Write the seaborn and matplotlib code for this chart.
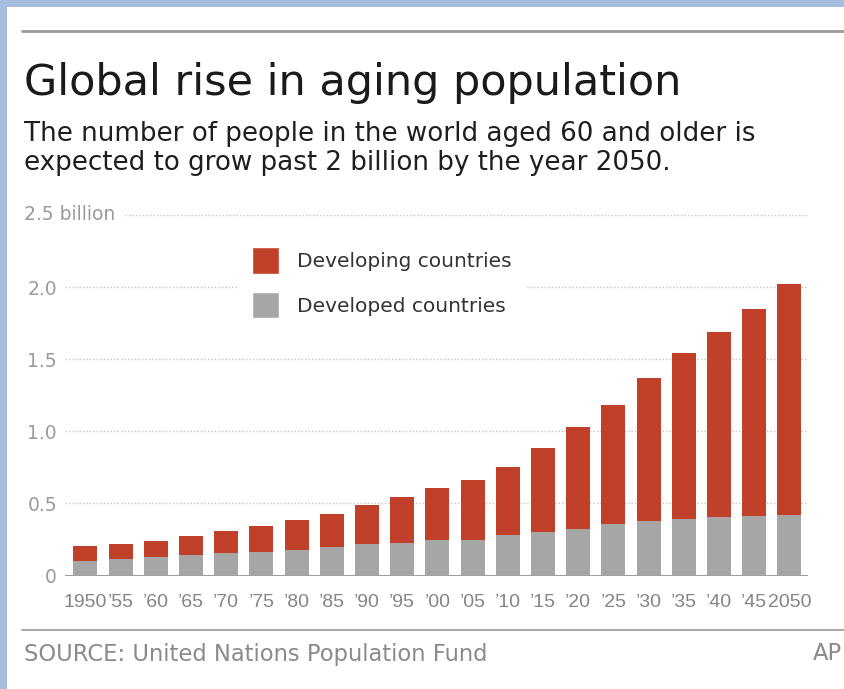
import matplotlib
matplotlib.use("Agg")
import pandas as pd
import matplotlib.pyplot as plt
import seaborn as sns
from matplotlib.patches import Patch, Rectangle
from matplotlib.lines import Line2D

# data (billions of people aged 60+)
years = ["1950", "’55", "’60", "’65", "’70", "’75", "’80", "’85", "’90", "’95", "’00",
         "’05", "’10", "’15", "’20", "’25", "’30", "’35", "’40", "’45", "2050"]
developed = [0.100, 0.114, 0.128, 0.139, 0.153, 0.166, 0.180, 0.198, 0.216, 0.228, 0.244,
             0.248, 0.278, 0.303, 0.323, 0.355, 0.376, 0.392, 0.408, 0.415, 0.419]
developing = [0.103, 0.107, 0.113, 0.132, 0.154, 0.180, 0.205, 0.228, 0.271, 0.314, 0.362,
              0.415, 0.476, 0.583, 0.707, 0.830, 0.994, 1.148, 1.282, 1.435, 1.601]
y_ticks = [0, 0.5, 1.0, 1.5, 2.0]
y_labels = ["0", "0.5", "1.0", "1.5", "2.0"]

df = pd.DataFrame({"year": years, "developed": developed, "developing": developing})
df["total"] = df["developed"] + df["developing"]

red = "#c1402a"
grey = "#a6a6a6"

sns.set_style("white")
plt.rcParams["font.family"] = ["DejaVu Sans"]

W, H = 845, 689
fig = plt.figure(figsize=(W / 100, H / 100), dpi=100)
fig.patch.set_facecolor("white")

# light blue frame on top and left edge
fig.add_artist(Rectangle((0, 1 - 7 / H), 1, 7 / H, transform=fig.transFigure,
                         facecolor="#a7bde0", edgecolor="none"))
fig.add_artist(Rectangle((0, 0), 7 / W, 1, transform=fig.transFigure,
                         facecolor="#a7bde0", edgecolor="none"))

ax = fig.add_axes([65 / W, 1 - 575.5 / H, 743 / W, 360.5 / H])

# stacked bars: total in red, developed drawn over it in grey
sns.barplot(data=df, x="year", y="total", order=years, color=red, saturation=1,
            width=0.68, linewidth=0, errorbar=None, ax=ax)
sns.barplot(data=df, x="year", y="developed", order=years, color=grey, saturation=1,
            width=0.68, linewidth=0, errorbar=None, ax=ax)

ax.set_ylim(0, 2.5)
ax.set_xlim(-0.58, 20.53)
sns.despine(ax=ax, left=True, bottom=True)
ax.set_xlabel("")
ax.set_ylabel("")

# dotted grid behind bars
for v in y_ticks[1:]:
    ax.axhline(v, color="#c4c4c4", lw=1, ls=(0, (1, 1.5)), zorder=0)
ax.axhline(2.5, xmin=0.081, color="#c4c4c4", lw=1, ls=(0, (1, 1.5)), zorder=0)
ax.axhline(0, color="#a0a0a0", lw=1.5, zorder=3)

ax.set_yticks(y_ticks)
ax.set_yticklabels(y_labels)
ax.tick_params(axis="y", length=0, pad=5.8, labelsize=13.5, labelcolor="#9a9a9a")
ax.tick_params(axis="x", length=0, pad=13.5, labelsize=14, labelcolor="#858585")
for lab in ax.get_xticklabels():
    lab.set_family(["Liberation Sans", "DejaVu Sans"])

fig.text(24 / W, 1 - 215 / H, "2.5 billion", ha="left", va="center",
         fontsize=13.5, color="#9a9a9a")

handles = [Patch(facecolor=red, label="Developing countries"),
           Patch(facecolor=grey, label="Developed countries")]
leg = ax.legend(handles=handles, loc="upper left", bbox_to_anchor=(237 / W, 1 - 232 / H),
                bbox_transform=fig.transFigure, frameon=True, fancybox=False,
                edgecolor="none", facecolor="white", framealpha=1, fontsize=14.5,
                borderpad=0.75, borderaxespad=0, handlelength=1.34, handleheight=1.65,
                handletextpad=0.9, labelspacing=0.9)
for t in leg.get_texts():
    t.set_color("#333333")

# header
fig.add_artist(Line2D([22 / W, 1], [1 - 31 / H] * 2, transform=fig.transFigure,
                      color="#9a9a9a", lw=2))
fig.text(24 / W, 1 - 95 / H, "Global rise in aging population", ha="left", va="baseline",
         fontsize=31, color="#1a1a1a")
fig.text(24 / W, 1 - 141 / H, "The number of people in the world aged 60 and older is",
         ha="left", va="baseline", fontsize=18.8, color="#1e1e1e")
fig.text(24 / W, 1 - 170 / H, "expected to grow past 2 billion by the year 2050.",
         ha="left", va="baseline", fontsize=18.8, color="#1e1e1e")

# footer
fig.add_artist(Line2D([22 / W, 1], [1 - 630 / H] * 2, transform=fig.transFigure,
                      color="#aaaaaa", lw=1.5))
fig.text(24 / W, 1 - 654 / H, "SOURCE: United Nations Population Fund", ha="left",
         va="center", fontsize=16.3, color="#8a8a8a")
fig.text(813 / W, 1 - 654 / H, "AP", ha="left", va="center", fontsize=16.3, color="#8a8a8a")

fig.savefig("out.png", dpi=100)
